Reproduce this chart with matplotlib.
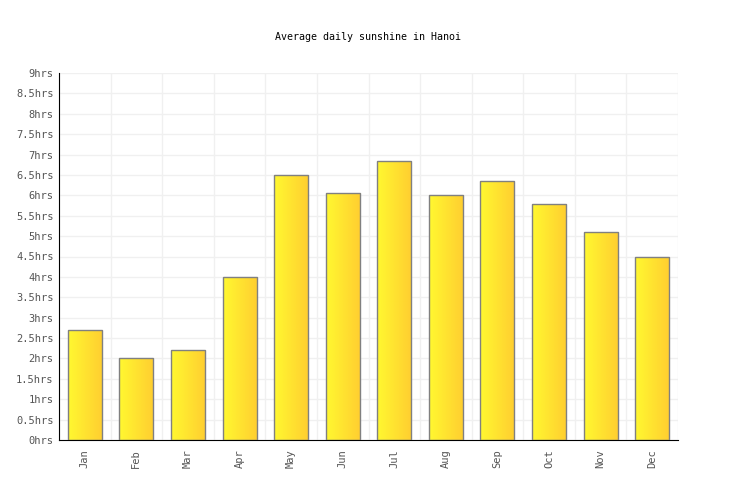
import numpy as np
import matplotlib
matplotlib.use('Agg')
import matplotlib.pyplot as plt
from matplotlib.colors import LinearSegmentedColormap

months = ['Jan', 'Feb', 'Mar', 'Apr', 'May', 'Jun', 'Jul', 'Aug', 'Sep', 'Oct', 'Nov', 'Dec']
sunshine = [2.7, 2.0, 2.2, 4.0, 6.5, 6.05, 6.83, 6.02, 6.36, 5.78, 5.11, 4.5]
yticks = [i * 0.5 for i in range(19)]
ylabels = ['%ghrs' % v for v in yticks]

plt.rcParams['font.family'] = 'DejaVu Sans Mono'

fig = plt.figure(figsize=(7.36, 5), dpi=100)
ax = fig.add_axes([59 / 736, 60 / 500, 619 / 736, 367 / 500])

x = np.arange(len(months))
bars = ax.bar(x, sunshine, width=0.66, color='none', edgecolor='#808080', linewidth=1, zorder=3)

# left-to-right yellow gradient inside each bar
cmap = LinearSegmentedColormap.from_list('sun', ['#FFF830', '#FFCE30'])
grad = np.linspace(0, 1, 64).reshape(1, -1)
for b in bars:
    x0, y0 = b.get_x(), b.get_y()
    w, h = b.get_width(), b.get_height()
    im = ax.imshow(grad, cmap=cmap, aspect='auto', extent=[x0, x0 + w, y0, y0 + h], zorder=2)
    im.set_clip_path(b)

ax.set_xlim(-0.5, 11.5)
ax.set_ylim(0, 9)
ax.set_xticks(x)
ax.set_xticklabels(months, rotation=90, fontsize=7.5, color='#555555')
ax.set_yticks(yticks)
ax.set_yticklabels(ylabels, fontsize=7.5, color='#555555')
ax.set_xticks(np.arange(-0.5, 12, 1), minor=True)
ax.tick_params(axis='both', which='both', length=0)
ax.tick_params(axis='y', pad=4)
ax.tick_params(axis='x', pad=7)
ax.grid(True, which='major', axis='y', color='#F0F0F0', linewidth=1, zorder=0)
ax.grid(True, which='minor', axis='x', color='#F0F0F0', linewidth=1, zorder=0)
ax.set_axisbelow(True)
for s in ['top', 'right']:
    ax.spines[s].set_visible(False)
ax.spines['left'].set_color('black')
ax.spines['bottom'].set_color('black')

fig.text(0.5, 1 - 37 / 500, 'Average daily sunshine in Hanoi', ha='center', va='center', fontsize=7.2, color='black')

fig.savefig('out.png', dpi=100)
